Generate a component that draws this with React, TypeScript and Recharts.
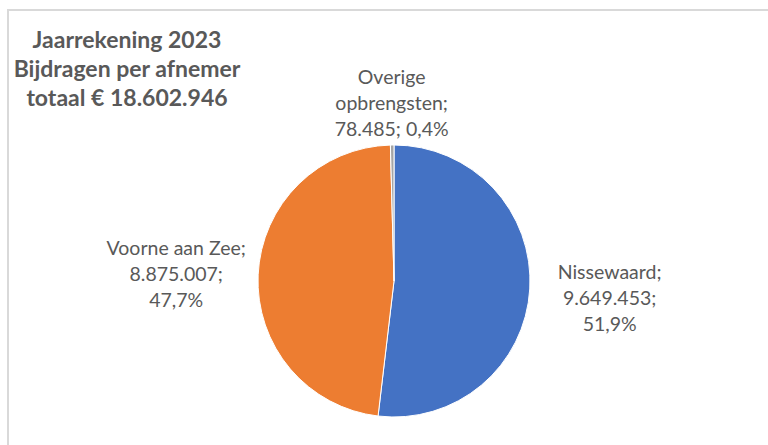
import React from 'react';
import { PieChart, Pie, Cell } from 'recharts';

const names = ['Nissewaard', 'Voorne aan Zee', 'Overige opbrengsten'];
const values = [9649453, 8875007, 78485];
const valueLabels = ['9.649.453', '8.875.007', '78.485'];
const pctLabels = ['51,9%', '47,7%', '0,4%'];
const labelLines = [
  ['Nissewaard;', '9.649.453;', '51,9%'],
  ['Voorne aan Zee;', '8.875.007;', '47,7%'],
  ['Overige', 'opbrengsten;', '78.485; 0,4%'],
];
const titleLines = ['Jaarrekening 2023', 'Bijdragen per afnemer', 'totaal € 18.602.946'];

const colors = ['#4472C4', '#ED7D31', '#A5A5A5'];
const labelRadius = [216, 218, 179];
const labelDy = [3, 2, 0];
const RAD = Math.PI / 180;
const font = 'Lato, "Open Sans", sans-serif';

const data = names.map((n, i) => ({ name: n, value: values[i], v: valueLabels[i], p: pctLabels[i] }));

const renderLabel = (props: any) => {
  const { cx, cy, midAngle, index } = props;
  const r = labelRadius[index];
  const x = cx + r * Math.cos(-midAngle * RAD);
  const y = cy + r * Math.sin(-midAngle * RAD) + labelDy[index];
  const lines = labelLines[index];
  const lh = 26;
  const y0 = y - ((lines.length - 1) * lh) / 2;
  return (
    <text x={x} y={y0} textAnchor="middle" dominantBaseline="central" fill="#595959" fontSize={19.5} fontFamily={font}>
      {lines.map((l, k) => (
        <tspan key={k} x={x} y={y0 + k * lh} dominantBaseline="central">{l}</tspan>
      ))}
    </text>
  );
};

export default function App() {
  return (
    <div style={{ position: 'absolute', left: 0, top: 0, width: 768, height: 445, overflow: 'hidden', background: '#fff' }}>
      <div style={{ position: 'absolute', left: 7, top: 9, width: 900, height: 600, borderLeft: '2px solid #d9d9d9', borderTop: '2px solid #d9d9d9' }} />
      <div style={{ position: 'absolute', left: 0, top: 0 }}>
        <PieChart width={768} height={445} margin={{ top: 0, right: 0, bottom: 0, left: 0 }}>
          <Pie
            data={data}
            dataKey="value"
            nameKey="name"
            cx={394}
            cy={281}
            outerRadius={136}
            startAngle={90}
            endAngle={-270}
            stroke="#fff"
            strokeWidth={1}
            label={renderLabel}
            labelLine={false}
            isAnimationActive={false}
          >
            {data.map((d, i) => (
              <Cell key={d.name} fill={colors[i]} />
            ))}
          </Pie>
        </PieChart>
      </div>
      <div style={{ position: 'absolute', left: 6, top: 25, width: 242, textAlign: 'center', fontFamily: font, fontWeight: 700, fontSize: 23, color: '#595959', lineHeight: '29px' }}>
        {titleLines.map((t) => (
          <div key={t}>{t}</div>
        ))}
      </div>
    </div>
  );
}
